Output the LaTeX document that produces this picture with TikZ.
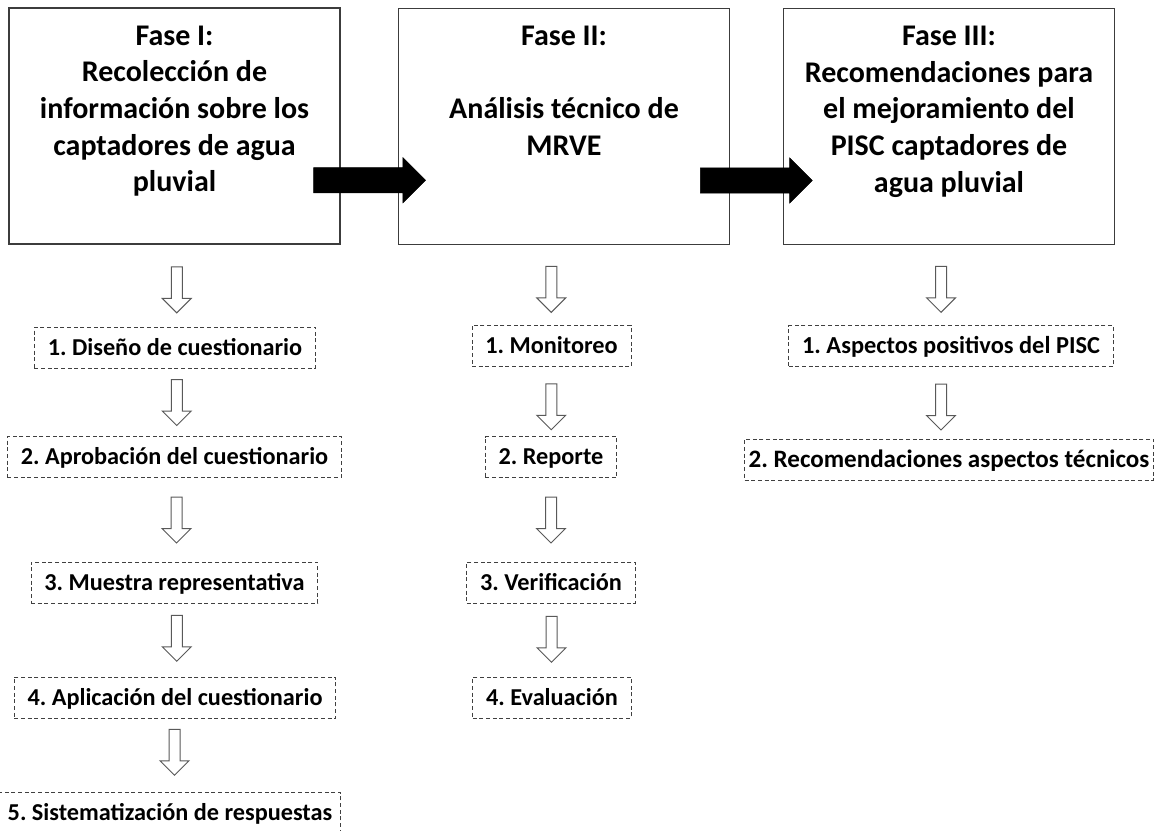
\documentclass[tikz,border=0pt]{standalone}
\usepackage{fontspec}
\setmainfont{Carlito}
\usetikzlibrary{shapes.arrows,calc}
\definecolor{phaseline}{HTML}{3C3C3C}
\definecolor{stepline}{HTML}{404040}
\definecolor{arrowgrey}{HTML}{595959}
\frenchspacing
\begin{document}
\begin{tikzpicture}[x=0.75pt,y=-0.75pt,
  phase/.style={draw=phaseline, line width=0.9pt, minimum width=248.25pt, minimum height=177pt, inner sep=0pt},
  phasetext/.style={font=\bfseries\fontsize{22.5}{27.5}\selectfont, align=center, anchor=north, inner sep=0pt},
  stepbox/.style={draw=stepline, dash pattern=on 3pt off 2pt, line width=0.75pt, font=\bfseries\fontsize{18.2}{22}\selectfont, inner xsep=10pt, inner ysep=0pt, minimum height=30.75pt, text height=15.6pt, text depth=4pt},
  hollow/.style={single arrow, draw=arrowgrey, fill=white, line width=0.75pt, shape border rotate=270, minimum height=34.5pt, single arrow head extend=6.75pt, single arrow tip angle=90, inner sep=3.75pt},
  blackarrow/.style={single arrow, draw=black, fill=black, line width=0.4pt, minimum height=84pt, single arrow head extend=7.5pt, single arrow tip angle=90, inner sep=9.2pt}
]
\useasboundingbox (0,0) rectangle (1154,831);
\fill[white] (0,0) rectangle (1154,831);

% phase boxes
\node[phase] (p1) at (174.5,126) {};
\node[phase] (p2) at (564,126.5) {};
\node[phase] (p3) at (949,126.5) {};

\node[phasetext] (t1) at ($(p1.north)+(0,18)$) {Fase I:\\Recolección de\\información sobre los\\captadores de agua\\pluvial};
\node[phasetext] (t2) at ($(p2.north)+(0,18)$) {Fase II:\\[27.5pt]Análisis técnico de\\MRVE};
\node[phasetext] (t3) at ($(p3.north)+(0,18)$) {Fase III:\\Recomendaciones para\\el mejoramiento del\\PISC captadores de\\agua pluvial};

% black arrows between phases
\node[blackarrow] (b1) at ($(p1.east)!0.5!(p2.west)+(-6,54)$) {};
\node[blackarrow] (b2) at ($(p2.east)!0.5!(p3.west)+(-6.5,54)$) {};

% column 1 steps
\node[stepbox] (s11) at (175,347.5) {1. Diseño de cuestionario};
\node[stepbox] (s12) at (174.5,457) {2. Aprobación del cuestionario};
\node[stepbox] (s13) at (174.5,582.5) {3. Muestra representativa};
\node[stepbox] (s14) at (175,697.5) {4. Aplicación del cuestionario};
\node[stepbox, inner xsep=6pt] (s15) at (170,812.5) {5. Sistematización de respuestas};

% column 2 steps
\node[stepbox] (s21) at (551.5,346) {1. Monitoreo};
\node[stepbox] (s22) at (551,457) {2. Reporte};
\node[stepbox] (s23) at (551,582.5) {3. Verificación};
\node[stepbox] (s24) at (552,697.5) {4. Evaluación};

% column 3 steps
\node[stepbox, font=\bfseries\fontsize{18.3}{22}\selectfont] (s31) at (951,346) {1. Aspectos positivos del PISC};
\node[stepbox, font=\bfseries\fontsize{18.8}{22}\selectfont, inner xsep=3pt] (s32) at (949,459.5) {2. Recomendaciones aspectos técnicos};

% hollow arrows column 1
\node[hollow] (h11) at ($(p1.south)!0.5!(s11.north)+(2,1.5)$) {};
\node[hollow] (h12) at ($(s11.south)!0.5!(s12.north)+(2,-2.5)$) {};
\node[hollow] (h13) at ($(s12.south)!0.5!(s13.north)+(2,-2.5)$) {};
\node[hollow] (h14) at ($(s13.south)!0.5!(s14.north)+(2,-4.5)$) {};
\node[hollow] (h15) at ($(s14.south)!0.5!(s15.north)+(2,-5.5)$) {};

% hollow arrows column 2
\node[hollow] (h21) at ($(p2.south)!0.5!(s21.north)+(-6.5,1.5)$) {};
\node[hollow] (h22) at ($(s21.south)!0.5!(s22.north)+(0,2.5)$) {};
\node[hollow] (h23) at ($(s22.south)!0.5!(s23.north)+(0,-2.5)$) {};
\node[hollow] (h24) at ($(s23.south)!0.5!(s24.north)+(0,-3.5)$) {};

% hollow arrows column 3
\node[hollow] (h31) at ($(p3.south)!0.5!(s31.north)+(-9,1.5)$) {};
\node[hollow] (h32) at ($(s31.south)!0.5!(s32.north)+(-9,1.5)$) {};
\end{tikzpicture}
\end{document}
